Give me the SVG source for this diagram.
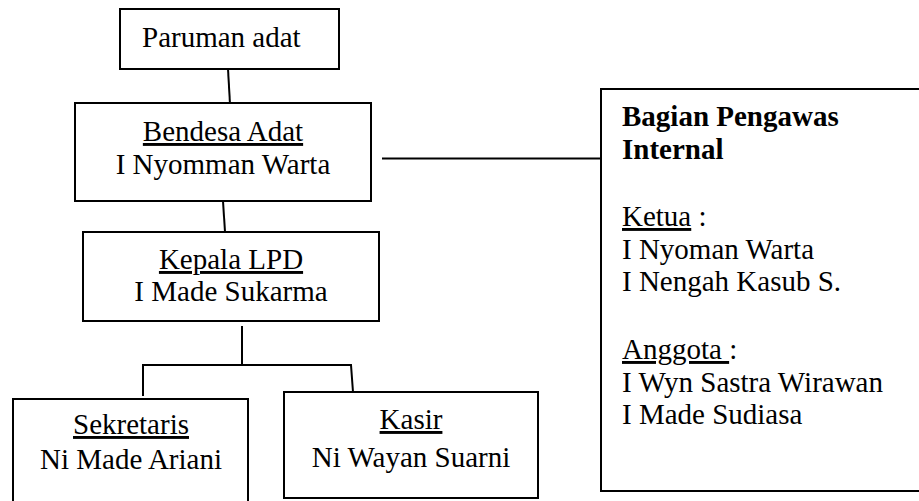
<svg xmlns="http://www.w3.org/2000/svg" width="919" height="501" viewBox="0 0 919 501">
<rect x="0" y="0" width="919" height="501" fill="#fff"/>
<g id="connectors" fill="none" stroke="#000" stroke-width="2">
<path d="M228 69 L230 104"/>
<path d="M223 201 L225 232"/>
<path d="M382 158.5 L601 158.5"/>
<path d="M242 326 L242 366"/>
<path d="M143 396 L143 365 L351 365 L353 392"/>
</g>
<g id="paruman">
<rect x="120" y="9" width="219" height="60" fill="#fff" stroke="#000" stroke-width="2"/>
<text x="142" y="47" font-family="Liberation Serif" font-size="29">Paruman adat</text>
</g>
<g id="bendesa">
<rect x="75" y="103" width="296" height="98" fill="#fff" stroke="#000" stroke-width="2"/>
<text x="223" y="141" text-anchor="middle" font-family="Liberation Serif" font-size="29" text-decoration="underline">Bendesa Adat</text>
<text x="223" y="174" text-anchor="middle" font-family="Liberation Serif" font-size="29">I Nyomman Warta</text>
</g>
<g id="kepala">
<rect x="83" y="232" width="296" height="89" fill="#fff" stroke="#000" stroke-width="2"/>
<text x="231" y="269" text-anchor="middle" font-family="Liberation Serif" font-size="29" text-decoration="underline">Kepala LPD</text>
<text x="231" y="301" text-anchor="middle" font-family="Liberation Serif" font-size="29">I Made Sukarma</text>
</g>
<g id="sekretaris">
<rect x="13" y="399" width="235" height="110" fill="#fff" stroke="#000" stroke-width="2"/>
<text x="131" y="434" text-anchor="middle" font-family="Liberation Serif" font-size="29" text-decoration="underline">Sekretaris</text>
<text x="131" y="469" text-anchor="middle" font-family="Liberation Serif" font-size="29">Ni Made Ariani</text>
</g>
<g id="kasir">
<rect x="284" y="392" width="254" height="106" fill="#fff" stroke="#000" stroke-width="2"/>
<text x="411" y="429" text-anchor="middle" font-family="Liberation Serif" font-size="29" text-decoration="underline">Kasir</text>
<text x="411" y="467" text-anchor="middle" font-family="Liberation Serif" font-size="29">Ni Wayan Suarni</text>
</g>
<g id="pengawas">
<rect x="601" y="89" width="330" height="402" fill="#fff" stroke="#000" stroke-width="2"/>
<text x="622" y="126" font-family="Liberation Serif" font-size="29" font-weight="bold">Bagian Pengawas</text>
<text x="622" y="159" font-family="Liberation Serif" font-size="29" font-weight="bold">Internal</text>
<text x="622" y="226" font-family="Liberation Serif" font-size="29"><tspan text-decoration="underline">Ketua</tspan> :</text>
<text x="622" y="259" font-family="Liberation Serif" font-size="29">I Nyoman Warta</text>
<text x="622" y="291" font-family="Liberation Serif" font-size="29">I Nengah Kasub S.</text>
<text x="622" y="359" font-family="Liberation Serif" font-size="29" xml:space="preserve"><tspan text-decoration="underline">Anggota </tspan>:</text>
<text x="622" y="392" font-family="Liberation Serif" font-size="29">I Wyn Sastra Wirawan</text>
<text x="622" y="424" font-family="Liberation Serif" font-size="29">I Made Sudiasa</text>
</g>
</svg>
